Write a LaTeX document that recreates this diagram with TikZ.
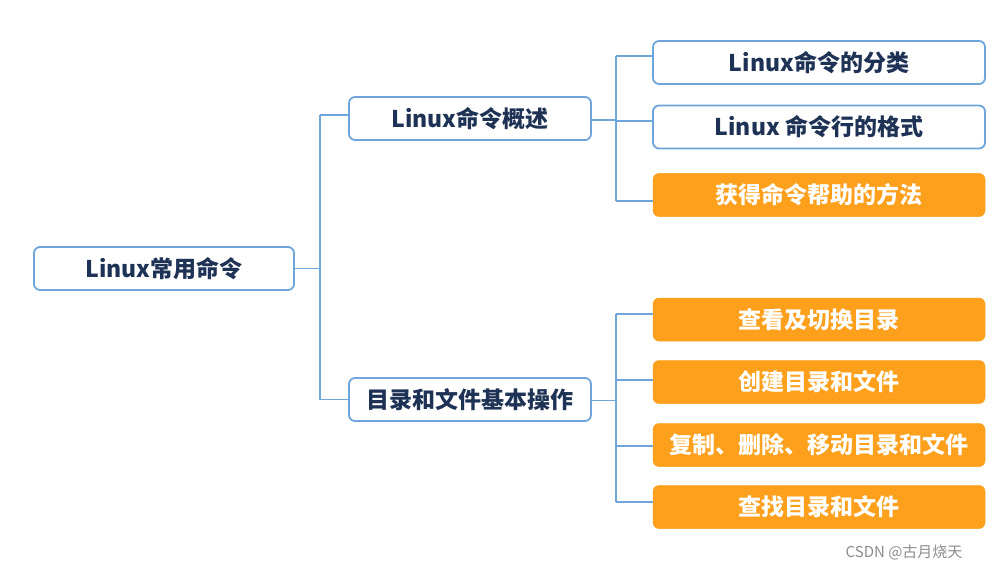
\documentclass[tikz,border=0pt]{standalone}
\usepackage{fontspec}
\setmainfont{Noto Sans CJK SC}
\usetikzlibrary{calc}
\definecolor{lineblue}{RGB}{110,165,220}
\definecolor{txtnavy}{RGB}{30,50,85}
\definecolor{boxorange}{RGB}{255,160,28}
\definecolor{wmgray}{RGB}{140,140,140}
\begin{document}
\begin{tikzpicture}[x=1pt,y=-1pt,
  wbox/.style={draw=lineblue,line width=1.8pt,fill=white,rounded corners=6pt,inner sep=0pt,
     text=txtnavy,font=\fontsize{23}{25}\selectfont\bfseries,minimum height=43pt},
  obox/.style={draw=boxorange,line width=0.5pt,fill=boxorange,rounded corners=6pt,inner sep=0pt,
     text=white,font=\fontsize{23}{25}\selectfont\bfseries,minimum height=43pt,minimum width=332pt},
  conn/.style={draw=lineblue,line width=1.3pt}]
\useasboundingbox (0,0) rectangle (1008,572);
\fill[white] (0,0) rectangle (1008,572);
% nodes
\node[wbox,minimum width=260pt] (root) at (164,268.5) {Linux常用命令};
\node[wbox,minimum width=242pt] (ov) at (470,118.5) {Linux命令概述};
\node[wbox,minimum width=242pt] (df) at (470,399.5) {目录和文件基本操作};
\node[wbox,minimum width=332pt] (c1) at (819,62.5) {Linux命令的分类};
\node[wbox,minimum width=332pt] (c2) at (819,127) {Linux 命令行的格式};
\node[obox] (c3) at (819,195) {获得命令帮助的方法};
\node[obox] (d1) at (819,319.5) {查看及切换目录};
\node[obox] (d2) at (819,382) {创建目录和文件};
\node[obox] (d3) at (819,445) {复制、删除、移动目录和文件};
\node[obox] (d4) at (819,507) {查找目录和文件};
\node[text=wmgray,font=\fontsize{15}{17}\selectfont,anchor=east] (wm) at (966,552) {CSDN @古月烧天};
% connectors
\coordinate (j0) at (320,268.5);
\draw[conn] (root.east) -- (j0);
\draw[conn] ([yshift=3.5pt]ov.west -| j0) -- ([yshift=3.5pt]ov.west);
\draw[conn] (df.west -| j0) -- (df.west);
\draw[conn] ([yshift=3.5pt]ov.west -| j0) -- (df.west -| j0);
\coordinate (j1) at (616,120);
\draw[conn] ([yshift=-1.5pt]ov.east) -- (j1);
\draw[conn] ([yshift=6.5pt]c1.west -| j1) -- ([yshift=6.5pt]c1.west);
\draw[conn] ([yshift=6pt]c2.west -| j1) -- ([yshift=6pt]c2.west);
\draw[conn] ([yshift=-6pt]c3.west -| j1) -- ([yshift=-6pt]c3.west);
\draw[conn] ([yshift=6.5pt]c1.west -| j1) -- ([yshift=-6pt]c3.west -| j1);
\coordinate (j2) at (616,400.5);
\draw[conn] ([yshift=-1pt]df.east) -- (j2);
\draw[conn] ([yshift=5.5pt]d1.west -| j2) -- ([yshift=5.5pt]d1.west);
\draw[conn] ([yshift=2pt]d2.west -| j2) -- ([yshift=2pt]d2.west);
\draw[conn] ([yshift=-1pt]d3.west -| j2) -- ([yshift=-1pt]d3.west);
\draw[conn] ([yshift=5pt]d4.west -| j2) -- ([yshift=5pt]d4.west);
\draw[conn] ([yshift=5.5pt]d1.west -| j2) -- ([yshift=5pt]d4.west -| j2);
\end{tikzpicture}
\end{document}
